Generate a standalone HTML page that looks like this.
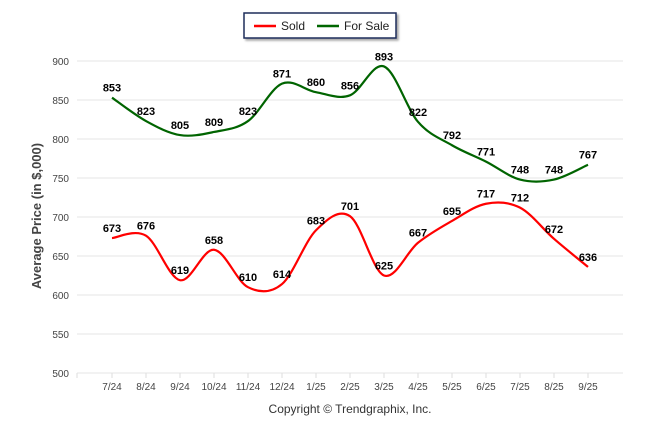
<!DOCTYPE html>
<html><head><meta charset="utf-8"><style>
body{margin:0;background:#fff;font-family:"Liberation Sans",sans-serif}
svg text{font-family:"Liberation Sans",sans-serif}
</style></head><body>
<svg width="646" height="434">
<defs><filter id="sh" x="-10%" y="-10%" width="130%" height="150%"><feDropShadow dx="2" dy="2" stdDeviation="1" flood-color="#000" flood-opacity="0.35"/></filter></defs>
<g id="grid"></g>
<g id="axes"></g>
<g id="series"></g>
<g id="labels"></g>
<text x="41" y="216" transform="rotate(-90 41 216)" text-anchor="middle" font-size="13" font-weight="bold" fill="#444">Average Price (in $,000)</text>
<text x="350" y="413" text-anchor="middle" font-size="12" fill="#333">Copyright © Trendgraphix, Inc.</text>
<g>
<rect x="244" y="13" width="152" height="25" fill="#fff" stroke="#1f2d5a" stroke-width="1.5" filter="url(#sh)"/>
<g><line x1="254" y1="26" x2="276" y2="26" stroke="#f00" stroke-width="2.5"/><text x="281" y="30" font-size="12" fill="#222">Sold</text></g>
<g><line x1="317" y1="26" x2="339" y2="26" stroke="#060" stroke-width="2.5"/><text x="344" y="30" font-size="12" fill="#222">For Sale</text></g>
</g>
</svg>
<script>
const categories=["7/24","8/24","9/24","10/24","11/24","12/24","1/25","2/25","3/25","4/25","5/25","6/25","7/25","8/25","9/25"];
const soldValues=[673,676,619,658,610,614,683,701,625,667,695,717,712,672,636];
const forSaleValues=[853,823,805,809,823,871,860,856,893,822,792,771,748,748,767];
const yTicks=[500,550,600,650,700,750,800,850,900];
const NS="http://www.w3.org/2000/svg";
const L=77,R=623,T=61,B=373;
const x=i=>112+i*34;
const y=v=>B-(v-500)/400*(B-T);
function mk(tag,attrs,parent){const e=document.createElementNS(NS,tag);for(const k in attrs)e.setAttribute(k,attrs[k]);document.getElementById(parent).appendChild(e);return e;}
yTicks.forEach(v=>{
 const l=mk('line',{x1:L,x2:R,y1:y(v),y2:y(v),stroke:'#e6e6e6'},'grid');
 
 
 const t=mk('text',{x:L-8,y:y(v)+4,'text-anchor':'end','font-size':10,fill:'#444'},'axes');
 t.textContent=v;
 
 
});
mk('line',{x1:L,x2:L,y1:B,y2:B+5,stroke:'#ddd'},'axes');
categories.forEach((c,i)=>{
 mk('line',{x1:x(i),x2:x(i),y1:B,y2:B+5,stroke:'#ddd'},'axes');
 const t=mk('text',{x:x(i),y:B+17,'text-anchor':'middle','font-size':10,fill:'#444'},'axes');
 t.textContent=c;
 
 
});
function path(vals){
 const p=vals.map((v,i)=>[x(i),y(v)]);
 let d=`M${p[0][0]},${p[0][1]}`;
 for(let i=0;i<p.length-1;i++){
  const p0=p[i-1]||p[i],p1=p[i],p2=p[i+1],p3=p[i+2]||p[i+1];
  const s=6;
  d+=` C${p1[0]+(p2[0]-p0[0])/s},${p1[1]+(p2[1]-p0[1])/s} ${p2[0]-(p3[0]-p1[0])/s},${p2[1]-(p3[1]-p1[1])/s} ${p2[0]},${p2[1]}`;
 }
 return d;
}
[[forSaleValues,'#006400','for-sale-line'],[soldValues,'#f00','sold-line']].forEach(([vals,col,name])=>{
 const p=mk('path',{d:path(vals),fill:'none',stroke:col,'stroke-width':2.2},'series');
 
 
 vals.forEach((v,i)=>{
  const t=mk('text',{x:x(i),y:y(v)-6,'text-anchor':'middle','font-size':11,'font-weight':'bold',fill:'#000'},'labels');
  t.textContent=v;
  
  
 });
});
</script>
</body></html>
